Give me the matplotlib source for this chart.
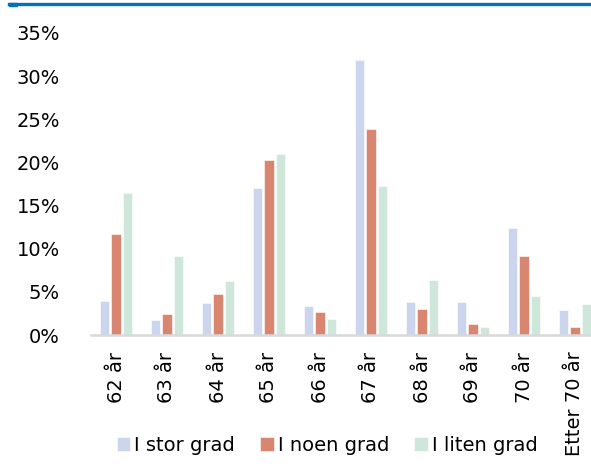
import matplotlib
matplotlib.use("Agg")
import matplotlib.pyplot as plt
import numpy as np
from matplotlib.ticker import FuncFormatter

categories = ["62 år", "63 år", "64 år", "65 år", "66 år", "67 år", "68 år", "69 år", "70 år", "Etter 70 år"]
stor = [3.9, 1.7, 3.7, 17.0, 3.4, 31.9, 3.8, 3.8, 12.4, 2.9]
noen = [11.7, 2.4, 4.7, 20.3, 2.7, 23.9, 3.0, 1.3, 9.2, 0.9]
liten = [16.4, 9.1, 6.3, 21.0, 1.8, 17.3, 6.4, 0.9, 4.5, 3.6]
series_names = ["I stor grad", "I noen grad", "I liten grad"]
colors = ["#CBD6EE", "#D8866F", "#CFE7DA"]

plt.rcParams['font.family'] = ['DejaVu Sans']

fig = plt.figure(figsize=(5.91, 4.69), dpi=100)
ax = fig.add_axes([90.5/591, 134/469, 510/591, 302/469])

x = np.arange(len(categories))
step = 0.222
width = 0.18
for i, (vals, name, c) in enumerate(zip([stor, noen, liten], series_names, colors)):
    ax.bar(x + (i - 1) * step, vals, width=width, color=c, label=name,
           edgecolor="white", linewidth=0.4)

ax.set_xlim(-0.5, len(categories) - 0.5)
ax.set_ylim(0, 35)
ax.set_yticks(np.arange(0, 36, 5))
ax.yaxis.set_major_formatter(FuncFormatter(lambda v, p: f"{int(v)}%"))
ax.set_xticks(x)
ax.set_xticklabels(categories, rotation=90, va="top", ha="center")
ax.tick_params(axis="x", length=0, pad=12, labelsize=14, colors="black")
ax.tick_params(axis="y", length=0, pad=22, labelsize=14, colors="black")
for s in ["top", "right", "left"]:
    ax.spines[s].set_visible(False)
ax.spines["bottom"].set_color("#D9D9D9")
ax.spines["bottom"].set_linewidth(1.8)

leg = fig.legend(loc="center", bbox_to_anchor=(327/591, 1 - 445/469), ncol=3, frameon=False,
                 fontsize=14, handlelength=0.7, handleheight=0.7, handletextpad=0.2,
                 columnspacing=1.3)

# top blue line
fig.add_artist(plt.Line2D([9/591, 1.0], [1 - 4.5/469, 1 - 4.5/469], color="#0070C0",
                          linewidth=2.4, transform=fig.transFigure))
fig.add_artist(plt.Rectangle((9/591, 1 - 6.5/469), 7.5/591, 3.5/469, color="#0070C0",
                             transform=fig.transFigure))

fig.savefig("out.png", dpi=100)
